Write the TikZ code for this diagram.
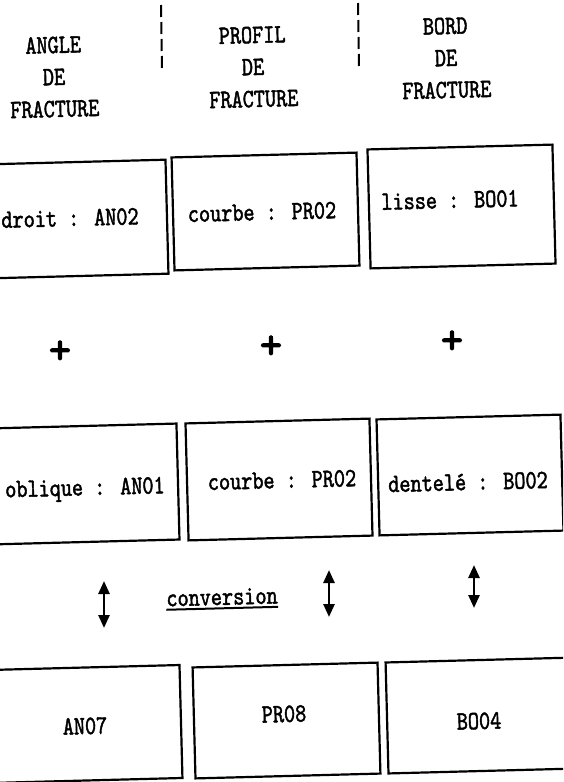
\documentclass[tikz,border=0pt]{standalone}
\usepackage{fontspec}
\newfontfamily\tw[FakeStretch=0.8,FakeBold=1.6]{lmmono10-regular.otf}
\newfontfamily\plusfont[FakeBold=3]{lmmono10-regular.otf}
\usetikzlibrary{arrows.meta}
\begin{document}
\begin{tikzpicture}[x=1pt,y=-1pt,
  boxnode/.style={draw, line width=2.2pt, inner sep=0pt, rotate=1.5},
  lbl/.style={font=\tw\fontsize{26.5}{32}\selectfont, inner sep=0pt, rotate=1.5},
  hdr/.style={lbl, align=center},
  plussign/.style={font=\plusfont\fontsize{42}{44}\selectfont, inner sep=0pt},
  sepline/.style={line width=2pt, dash pattern=on 12pt off 5pt},
  dbl/.style={line width=2.6pt, {Triangle[width=11pt,length=13pt]}-{Triangle[width=11pt,length=13pt]}}]
\useasboundingbox (0,0) rectangle (563,782);
\clip (0,0) rectangle (563,782);
\fill[white] (0,0) rectangle (563,782);

% headers
\node[hdr] (h1) at (54,77) {ANGLE\\DE\\FRACTURE};
\node[hdr] (h2) at (253,67) {PROFIL\\DE\\FRACTURE};
\node[hdr] (h3) at (446,58) {BORD\\DE\\FRACTURE};
\coordinate (d1a) at (161,5);
\coordinate (d1b) at (162,72);
\coordinate (d2a) at (358,3);
\coordinate (d2b) at (359,70);
\draw[sepline] (d1a) -- (d1b);
\draw[sepline] (d2a) -- (d2b);

% row 1
\node[boxnode, minimum width=177pt, minimum height=114pt] (b11) at (78.5,219) {};
\node[boxnode, minimum width=185pt, minimum height=113pt] (b12) at (265.5,211.5) {};
\node[boxnode, minimum width=185pt, minimum height=119pt] (b13) at (461.5,206.5) {};
\node[lbl] (t11) at (70,218) {droit : AN02};
\node[lbl] (t12) at (262,212) {courbe : PR02};
\node[lbl] (t13) at (450,200) {lisse : BO01};

% plus signs
\node[plussign] (p1) at (60,352) {+};
\node[plussign] (p2) at (271,347) {+};
\node[plussign] (p3) at (452,342) {+};

% row 2
\node[boxnode, minimum width=188pt, minimum height=116pt] (b21) at (84,484) {};
\node[boxnode, minimum width=184pt, minimum height=117pt] (b22) at (279,479.5) {};
\node[boxnode, minimum width=184pt, minimum height=116pt] (b23) at (470,475) {};
\node[lbl] (t21) at (85,490) {oblique : AN01};
\node[lbl] (t22) at (282,480) {courbe : PR02};
\node[lbl] (t23) at (468,482) {dentelé : BO02};

% conversion row
\coordinate (a1t) at (104,581);
\coordinate (a1b) at (104,628);
\coordinate (a2t) at (329,570);
\coordinate (a2b) at (329,617);
\coordinate (a3t) at (474,565);
\coordinate (a3b) at (474,608);
\draw[dbl] (a1t) -- (a1b);
\draw[dbl] (a2t) -- (a2b);
\draw[dbl] (a3t) -- (a3b);
\node[lbl, inner ysep=3pt] (conv) at (222,597) {conversion};
\draw[line width=2pt] (conv.south west) -- (conv.south east);

% row 4
\node[boxnode, minimum width=191pt, minimum height=113pt] (b41) at (85.5,724) {};
\node[boxnode, minimum width=185pt, minimum height=111pt] (b42) at (286.5,720.5) {};
\node[boxnode, minimum width=188pt, minimum height=111pt] (b43) at (481,715.5) {};
\node[lbl] (t41) at (85,726) {AN07};
\node[lbl] (t42) at (284,714) {PR08};
\node[lbl] (t43) at (479,721) {BO04};
\end{tikzpicture}
\end{document}
